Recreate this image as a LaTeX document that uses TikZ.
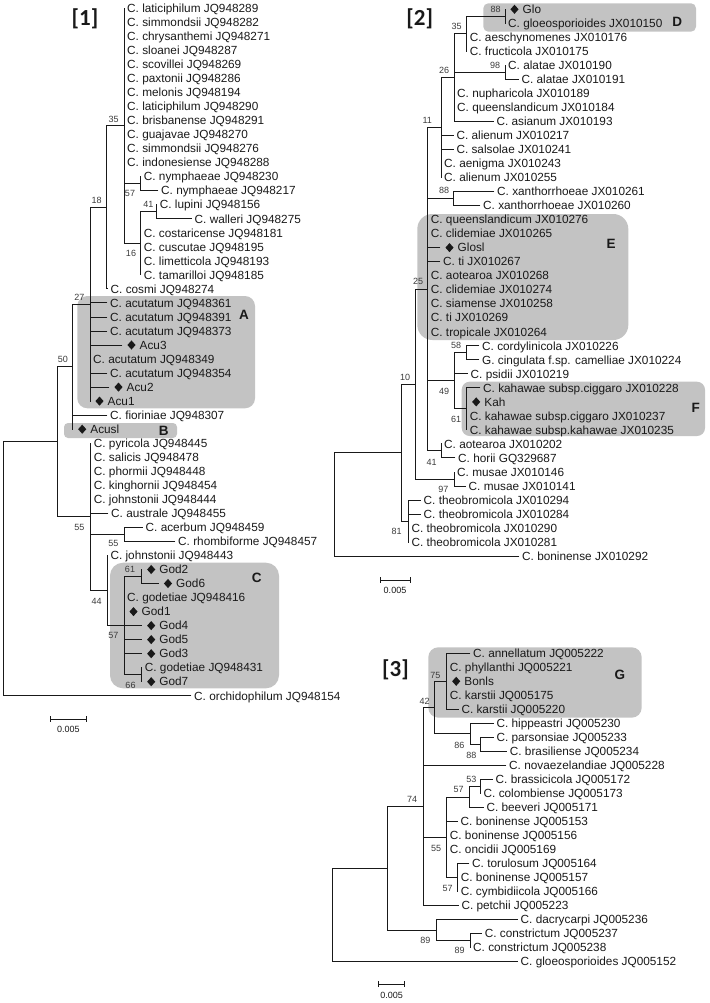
\documentclass[tikz,border=0pt]{standalone}
\usepackage{fontspec}
\setmainfont{Liberation Sans}
\newfontfamily\titlefont{Carlito}
\usetikzlibrary{shapes.geometric}
\definecolor{boxgray}{RGB}{195,195,195}
\definecolor{ink}{RGB}{25,25,25}
\tikzset{
 br/.style={draw=ink, line width=0.9pt, line cap=rect},
 lf/.style={anchor=west, inner xsep=3pt, inner ysep=0pt, text height=9pt, text depth=0.5pt, font=\fontsize{11.8}{12}\selectfont, text=ink},
 bs/.style={inner sep=0pt, font=\fontsize{9}{9}\selectfont, text=ink!85},
 glet/.style={inner sep=0pt, font=\bfseries\fontsize{13.5}{13.5}\selectfont, text=ink},
 ttl/.style={inner sep=0pt, font=\titlefont\bfseries\fontsize{23}{23}\selectfont, text=ink},
 dmd/.style={diamond, fill=ink, inner sep=0pt, minimum width=8.3pt, minimum height=9.3pt},
 scl/.style={inner sep=0pt, font=\fontsize{9}{9}\selectfont, text=ink},
 grp/.style={fill=boxgray, rounded corners=#1},
}
\newcommand{\hb}[2]{\draw[br] (#1 |- #2) -- (#2);}
\newcommand{\vb}[3]{\draw[br] (#1 |- #2) -- (#1 |- #3);}
\newcommand{\lfn}[4]{\node[lf] (#1) at (#2,#3) {#4};}
\newcommand{\dlf}[4]{\node[lf] (#1) at (#2,#3) {\hspace*{14.5pt}#4}; \node[dmd] (#1d) at ([xshift=9.5pt]#1.west) {};}
\begin{document}
\begin{tikzpicture}[x=1pt,y=-1pt]
\useasboundingbox (0,0) rectangle (709,1003);
% ---------- group boxes ----------
\fill[grp=10pt] (77.3,296) rectangle (255,408.3);
\fill[grp=4pt] (64,423) rectangle (177,438);
\fill[grp=13pt] (110,562.7) rectangle (279,688.3);
\fill[grp=5pt] (483.3,3.3) rectangle (696,31.7);
\fill[grp=15pt] (417.3,214) rectangle (628.3,340);
\fill[grp=8pt] (461.7,381.7) rectangle (705,436);
\fill[grp=10pt] (428.3,647.3) rectangle (641.7,717.7);
\node[glet] (gA) at (244,314.8) {A};
\node[glet] (gB) at (163.8,430.5) {B};
\node[glet] (gC) at (256.7,578) {C};
\node[glet] (gD) at (677.2,22.3) {D};
\node[glet] (gE) at (611,243.8) {E};
\node[glet] (gF) at (695.8,408.3) {F};
\node[glet] (gG) at (619.8,675) {G};
% ---------- titles ----------
\node[ttl] (T1) at (85,19.2) {[1]};
\node[ttl] (T2) at (419.7,18.8) {[2]};
\node[ttl] (T3) at (395.5,669.7) {[3]};
% =============== TREE 1 ===============
\coordinate (r1) at (3.3,568.8);
\coordinate (t1a) at (57.3,441.8);
\coordinate (t1n50) at (72.7,366.7);
\coordinate (t1n27) at (90,304.2);
\coordinate (t1n18) at (106.7,207.4);
\coordinate (t1n35) at (124,125.8);
\coordinate (t1n57a) at (140.7,183.7);
\coordinate (t1n16) at (140.7,243.3);
\coordinate (t1n41) at (156.7,211.8);
\coordinate (t1n55) at (90.7,516.9);
\coordinate (t1n55b) at (124,534.4);
\coordinate (t1n44) at (107.3,590.6);
\coordinate (t1n57) at (124,625.6);
\coordinate (t1n61) at (141.7,576.5);
\coordinate (t1n66) at (141.7,674.7);
\lfn{a0}{124}{8.3}{C. laticiphilum JQ948289}
\lfn{a1}{124}{22.3}{C. simmondsii JQ948282}
\lfn{a2}{124}{36.4}{C. chrysanthemi JQ948271}
\lfn{a3}{124}{50.4}{C. sloanei JQ948287}
\lfn{a4}{124}{64.4}{C. scovillei JQ948269}
\lfn{a5}{124}{78.5}{C. paxtonii JQ948286}
\lfn{a6}{124}{92.5}{C. melonis JQ948194}
\lfn{a7}{124}{106.5}{C. laticiphilum JQ948290}
\lfn{a8}{124}{120.5}{C. brisbanense JQ948291}
\lfn{a9}{124}{134.6}{C. guajavae JQ948270}
\lfn{a10}{124}{148.6}{C. simmondsii JQ948276}
\lfn{a11}{124}{162.6}{C. indonesiense JQ948288}
\lfn{a12}{140.7}{176.7}{C. nymphaeae JQ948230}
\lfn{a13}{158}{190.7}{C. nymphaeae JQ948217}
\lfn{a14}{156.7}{204.7}{C. lupini JQ948156}
\lfn{a15}{191.5}{218.8}{C. walleri JQ948275}
\lfn{a16}{140.7}{232.8}{C. costaricense JQ948181}
\lfn{a17}{140.7}{246.8}{C. cuscutae JQ948195}
\lfn{a18}{140.7}{260.8}{C. limetticola JQ948193}
\lfn{a19}{140.7}{274.9}{C. tamarilloi JQ948185}
\lfn{a20}{107.5}{288.9}{C. cosmi JQ948274}
\lfn{a21}{107}{302.9}{C. acutatum JQ948361}
\lfn{a22}{107}{317.0}{C. acutatum JQ948391}
\lfn{a23}{107}{331.0}{C. acutatum JQ948373}
\dlf{a24}{122}{345.0}{Acu3}
\lfn{a25}{90}{359.1}{C. acutatum JQ948349}
\lfn{a26}{107}{373.1}{C. acutatum JQ948354}
\dlf{a27}{109}{387.1}{Acu2}
\dlf{a28}{90}{401.1}{Acu1}
\lfn{a29}{107}{415.2}{C. fioriniae JQ948307}
\dlf{a30}{72.7}{429.2}{Acusl}
\lfn{a31}{90.7}{443.2}{C. pyricola JQ948445}
\lfn{a32}{90.7}{457.3}{C. salicis JQ948478}
\lfn{a33}{90.7}{471.3}{C. phormii JQ948448}
\lfn{a34}{90.7}{485.3}{C. kinghornii JQ948454}
\lfn{a35}{90.7}{499.4}{C. johnstonii JQ948444}
\lfn{a36}{108}{513.4}{C. australe JQ948455}
\lfn{a37}{142.5}{527.4}{C. acerbum JQ948459}
\lfn{a38}{175}{541.4}{C. rhombiforme JQ948457}
\lfn{a39}{107.3}{555.5}{C. johnstonii JQ948443}
\dlf{a40}{141.7}{569.5}{God2}
\dlf{a41}{158.5}{583.5}{God6}
\lfn{a42}{124}{597.6}{C. godetiae JQ948416}
\dlf{a43}{124}{611.6}{God1}
\dlf{a44}{141.7}{625.6}{God4}
\dlf{a45}{141.7}{639.6}{God5}
\dlf{a46}{141.7}{653.7}{God3}
\lfn{a47}{141.7}{667.7}{C. godetiae JQ948431}
\dlf{a48}{141.7}{681.7}{God7}
\lfn{a49}{191}{695.8}{C. orchidophilum JQ948154}
\vb{r1}{t1a}{a49} \hb{r1}{t1a} \hb{r1}{a49}
\vb{t1a}{t1n50}{t1n55} \hb{t1a}{t1n50} \hb{t1a}{t1n55}
\vb{t1n50}{t1n27}{a30} \hb{t1n50}{t1n27} \hb{t1n50}{a29}
\vb{t1n27}{t1n18}{a28} \hb{t1n27}{t1n18} \hb{t1n27}{a21} \hb{t1n27}{a22} \hb{t1n27}{a23} \hb{t1n27}{a24} \hb{t1n27}{a26} \hb{t1n27}{a27}
\vb{t1n18}{t1n35}{a20} \hb{t1n18}{t1n35} \hb{t1n18}{a20}
\vb{t1n35}{a0}{t1n16} \hb{t1n35}{t1n57a} \hb{t1n35}{t1n16}
\vb{t1n57a}{a12}{a13} \hb{t1n57a}{a13}
\vb{t1n16}{t1n41}{a19} \hb{t1n16}{t1n41}
\vb{t1n41}{a14}{a15} \hb{t1n41}{a15}
\vb{t1n55}{a31}{t1n44} \hb{t1n55}{a36} \hb{t1n55}{t1n55b} \hb{t1n55}{t1n44}
\vb{t1n55b}{a37}{a38} \hb{t1n55b}{a37} \hb{t1n55b}{a38}
\vb{t1n44}{a39}{t1n57} \hb{t1n44}{t1n57}
\vb{t1n57}{t1n61}{t1n66} \hb{t1n57}{t1n61} \hb{t1n57}{a44} \hb{t1n57}{a45} \hb{t1n57}{a46} \hb{t1n57}{t1n66}
\vb{t1n61}{a40}{a41} \hb{t1n61}{a41}
\vb{t1n66}{a47}{a48}
\node[bs] (k1a) at (113.7,119.3) {35};
\node[bs] (k1b) at (130,193.3) {57};
\node[bs] (k1c) at (148.3,204.5) {41};
\node[bs] (k1d) at (131,253.7) {16};
\node[bs] (k1e) at (96.7,200) {18};
\node[bs] (k1f) at (79.5,297) {27};
\node[bs] (k1g) at (62.8,359.3) {50};
\node[bs] (k1h) at (79.5,527.8) {55};
\node[bs] (k1i) at (113.3,543.8) {55};
\node[bs] (k1j) at (96.7,601.2) {44};
\node[bs] (k1k) at (130,569.2) {61};
\node[bs] (k1l) at (113.3,635.3) {57};
\node[bs] (k1m) at (130.5,685) {66};
\coordinate (s1a) at (50,719); \coordinate (s1b) at (86.7,719);
\draw[br, line cap=butt] (s1a) -- (s1b);
\draw[br, line cap=butt] ([yshift=3pt]s1a) -- ([yshift=-3pt]s1a);
\draw[br, line cap=butt] ([yshift=3pt]s1b) -- ([yshift=-3pt]s1b);
\node[scl] (s1l) at (68.3,729.5) {0.005};
% =============== TREE 2 ===============
\coordinate (r2) at (334,504.4);
\coordinate (t2b) at (401.7,452.7);
\coordinate (t2n10) at (415,384.2);
\coordinate (t2n25) at (427.7,289.3);
\coordinate (t2n11) at (441,127.6);
\coordinate (t2n26) at (454,77.7);
\coordinate (t2n35) at (466.7,33.9);
\coordinate (t2n88a) at (505,16.3);
\coordinate (t2n98) at (505,72.4);
\coordinate (t2n88b) at (453.3,198.6);
\coordinate (t2n49) at (454,380.9);
\coordinate (t2n58) at (466.7,352.8);
\coordinate (t2n61) at (466.7,408.9);
\coordinate (t2n41) at (441,450.9);
\coordinate (t2n97) at (454,479);
\coordinate (t2n81) at (408.3,521.1);
\dlf{b0}{505}{9.3}{Glo}
\lfn{b1}{505}{23.3}{C. gloeosporioides JX010150}
\lfn{b2}{466.7}{37.3}{C. aeschynomenes JX010176}
\lfn{b3}{466.7}{51.4}{C. fructicola JX010175}
\lfn{b4}{505}{65.4}{C. alatae JX010190}
\lfn{b5}{518.3}{79.4}{C. alatae JX010191}
\lfn{b6}{454}{93.4}{C. nupharicola JX010189}
\lfn{b7}{454}{107.4}{C. queenslandicum JX010184}
\lfn{b8}{493.3}{121.5}{C. asianum JX010193}
\lfn{b9}{453.3}{135.5}{C. alienum JX010217}
\lfn{b10}{453.3}{149.5}{C. salsolae JX010241}
\lfn{b11}{441}{163.5}{C. aenigma JX010243}
\lfn{b12}{441}{177.5}{C. alienum JX010255}
\lfn{b13}{494}{191.6}{C. xanthorrhoeae JX010261}
\lfn{b14}{480}{205.6}{C. xanthorrhoeae JX010260}
\lfn{b15}{427.7}{219.6}{C. queenslandicum JX010276}
\lfn{b16}{427.7}{233.6}{C. clidemiae JX010265}
\dlf{b17}{440}{247.6}{Glosl}
\lfn{b18}{440}{261.7}{C. ti JX010267}
\lfn{b19}{427.7}{275.7}{C. aotearoa JX010268}
\lfn{b20}{427.7}{289.7}{C. clidemiae JX010274}
\lfn{b21}{427.7}{303.7}{C. siamense JX010258}
\lfn{b22}{427.7}{317.7}{C. ti JX010269}
\lfn{b23}{427.7}{331.8}{C. tropicale JX010264}
\lfn{b24}{479}{345.8}{C. cordylinicola JX010226}
\lfn{b25}{479}{359.8}{G. cingulata f.sp. camelliae JX010224}
\lfn{b26}{467.5}{373.8}{C. psidii JX010219}
\lfn{b27}{480}{387.8}{C. kahawae subsp.ciggaro JX010228}
\dlf{b28}{466.7}{401.9}{Kah}
\lfn{b29}{466.7}{415.9}{C. kahawae subsp.ciggaro JX010237}
\lfn{b30}{466.7}{429.9}{C. kahawae subsp.kahawae JX010235}
\lfn{b31}{441}{443.9}{C. aotearoa JX010202}
\lfn{b32}{455}{457.9}{C. horii GQ329687}
\lfn{b33}{454}{472.0}{C. musae JX010146}
\lfn{b34}{465.5}{486.0}{C. musae JX010141}
\lfn{b35}{420.5}{500.0}{C. theobromicola JX010294}
\lfn{b36}{420.5}{514.0}{C. theobromicola JX010284}
\lfn{b37}{408.3}{528.0}{C. theobromicola JX010290}
\lfn{b38}{408.3}{542.1}{C. theobromicola JX010281}
\lfn{b39}{519}{556.1}{C. boninense JX010292}
\vb{r2}{t2b}{b39} \hb{r2}{t2b} \hb{r2}{b39}
\vb{t2b}{t2n10}{t2n81} \hb{t2b}{t2n10} \hb{t2b}{t2n81}
\vb{t2n10}{t2n25}{t2n97} \hb{t2n10}{t2n25} \hb{t2n10}{t2n97}
\vb{t2n25}{t2n11}{t2n41} \hb{t2n25}{t2n11} \hb{t2n25}{t2n88b} \hb{t2n25}{b17} \hb{t2n25}{b18} \hb{t2n25}{t2n49} \hb{t2n25}{t2n41}
\vb{t2n11}{t2n26}{b12} \hb{t2n11}{t2n26} \hb{t2n11}{b9} \hb{t2n11}{b10}
\vb{t2n26}{t2n35}{b8} \hb{t2n26}{t2n35} \hb{t2n26}{t2n98} \hb{t2n26}{b8}
\vb{t2n35}{t2n88a}{b3} \hb{t2n35}{t2n88a}
\vb{t2n88a}{b0}{b1}
\vb{t2n98}{b4}{b5} \hb{t2n98}{b5}
\vb{t2n88b}{b13}{b14} \hb{t2n88b}{b13} \hb{t2n88b}{b14}
\vb{t2n49}{t2n58}{t2n61} \hb{t2n49}{t2n58} \hb{t2n49}{b26} \hb{t2n49}{t2n61}
\vb{t2n58}{b24}{b25} \hb{t2n58}{b24} \hb{t2n58}{b25}
\vb{t2n61}{b27}{b30} \hb{t2n61}{b27}
\vb{t2n41}{b31}{b32} \hb{t2n41}{b32}
\vb{t2n97}{b33}{b34} \hb{t2n97}{b34}
\vb{t2n81}{b35}{b38} \hb{t2n81}{b35} \hb{t2n81}{b36}
\node[bs] (k2a) at (495.7,9.3) {88};
\node[bs] (k2b) at (456.7,26.7) {35};
\node[bs] (k2c) at (495,65) {98};
\node[bs] (k2d) at (444,70) {26};
\node[bs] (k2e) at (427.3,120) {11};
\node[bs] (k2f) at (444,190.7) {88};
\node[bs] (k2g) at (418,281.7) {25};
\node[bs] (k2h) at (456.2,345.8) {58};
\node[bs] (k2i) at (405,377) {10};
\node[bs] (k2j) at (444,391.7) {49};
\node[bs] (k2k) at (456.2,419.7) {61};
\node[bs] (k2l) at (431.7,462.3) {41};
\node[bs] (k2m) at (443.3,489.3) {97};
\node[bs] (k2n) at (396.7,531.3) {81};
\coordinate (s2a) at (380.7,580); \coordinate (s2b) at (410,580);
\draw[br, line cap=butt] (s2a) -- (s2b);
\draw[br, line cap=butt] ([yshift=3pt]s2a) -- ([yshift=-3pt]s2a);
\draw[br, line cap=butt] ([yshift=3pt]s2b) -- ([yshift=-3pt]s2b);
\node[scl] (s2l) at (395,590) {0.005};
% =============== TREE 3 ===============
\coordinate (r3) at (332.3,915.1);
\coordinate (t3c) at (387.7,868.5);
\coordinate (t3n74) at (423.3,806.7);
\coordinate (t3n42) at (434,707.7);
\coordinate (t3n75) at (446.7,681.4);
\coordinate (t3n86) at (470,733.9);
\coordinate (t3n88) at (480.7,744.4);
\coordinate (t3n55) at (446.7,837.3);
\coordinate (t3n57a) at (469.3,797);
\coordinate (t3n53) at (480.5,786.5);
\coordinate (t3n57b) at (457.7,877.6);
\coordinate (t3n89) at (436,930.2);
\coordinate (t3n89b) at (470,940.7);
\lfn{c0}{470}{653.3}{C. annellatum JQ005222}
\lfn{c1}{446.7}{667.3}{C. phyllanthi JQ005221}
\dlf{c2}{446.7}{681.3}{Bonls}
\lfn{c3}{446.7}{695.4}{C. karstii JQ005175}
\lfn{c4}{458.3}{709.4}{C. karstii JQ005220}
\lfn{c5}{493.3}{723.4}{C. hippeastri JQ005230}
\lfn{c6}{493.3}{737.4}{C. parsonsiae JQ005233}
\lfn{c7}{506.7}{751.4}{C. brasiliense JQ005234}
\lfn{c8}{506}{765.5}{C. novaezelandiae JQ005228}
\lfn{c9}{492.5}{779.5}{C. brassicicola JQ005172}
\lfn{c10}{480.5}{793.5}{C. colombiense JQ005173}
\lfn{c11}{483.3}{807.5}{C. beeveri JQ005171}
\lfn{c12}{457.5}{821.5}{C. boninense JQ005153}
\lfn{c13}{446.7}{835.6}{C. boninense JQ005156}
\lfn{c14}{446.7}{849.6}{C. oncidii JQ005169}
\lfn{c15}{469}{863.6}{C. torulosum JQ005164}
\lfn{c16}{457.7}{877.6}{C. boninense JQ005157}
\lfn{c17}{457.7}{891.6}{C. cymbidiicola JQ005166}
\lfn{c18}{458.3}{905.7}{C. petchii JQ005223}
\lfn{c19}{517.5}{919.7}{C. dacrycarpi JQ005236}
\lfn{c20}{481.7}{933.7}{C. constrictum JQ005237}
\lfn{c21}{470}{947.7}{C. constrictum JQ005238}
\lfn{c22}{517.5}{961.7}{C. gloeosporioides JQ005152}
\vb{r3}{t3c}{c22} \hb{r3}{t3c} \hb{r3}{c22}
\vb{t3c}{t3n74}{t3n89} \hb{t3c}{t3n74} \hb{t3c}{t3n89}
\vb{t3n74}{t3n42}{c18} \hb{t3n74}{t3n42} \hb{t3n74}{c8} \hb{t3n74}{t3n55} \hb{t3n74}{c18}
\vb{t3n42}{t3n75}{t3n86} \hb{t3n42}{t3n75} \hb{t3n42}{t3n86}
\vb{t3n75}{c0}{c4} \hb{t3n75}{c0} \hb{t3n75}{c4}
\vb{t3n86}{c5}{t3n88} \hb{t3n86}{c5} \hb{t3n86}{t3n88}
\vb{t3n88}{c6}{c7} \hb{t3n88}{c6} \hb{t3n88}{c7}
\vb{t3n55}{t3n57a}{t3n57b} \hb{t3n55}{t3n57a} \hb{t3n55}{c12} \hb{t3n55}{t3n57b}
\vb{t3n57a}{t3n53}{c11} \hb{t3n57a}{t3n53} \hb{t3n57a}{c11}
\vb{t3n53}{c9}{c10} \hb{t3n53}{c9}
\vb{t3n57b}{c15}{c17} \hb{t3n57b}{c15}
\vb{t3n89}{c19}{t3n89b} \hb{t3n89}{c19} \hb{t3n89}{t3n89b}
\vb{t3n89b}{c20}{c21} \hb{t3n89b}{c20}
\node[bs] (k3a) at (435.3,675) {75};
\node[bs] (k3b) at (424.7,701) {42};
\node[bs] (k3c) at (459.3,745) {86};
\node[bs] (k3d) at (471.3,755) {88};
\node[bs] (k3e) at (471.3,779.3) {53};
\node[bs] (k3f) at (458.7,789.3) {57};
\node[bs] (k3g) at (412,799) {74};
\node[bs] (k3h) at (436.2,848.3) {55};
\node[bs] (k3i) at (447.5,888.7) {57};
\node[bs] (k3j) at (425.3,940) {89};
\node[bs] (k3k) at (459.7,950.7) {89};
\coordinate (s3a) at (378.3,984); \coordinate (s3b) at (404.3,984);
\draw[br, line cap=butt] (s3a) -- (s3b);
\draw[br, line cap=butt] ([yshift=3pt]s3a) -- ([yshift=-3pt]s3a);
\draw[br, line cap=butt] ([yshift=3pt]s3b) -- ([yshift=-3pt]s3b);
\node[scl] (s3l) at (391.7,995) {0.005};
\end{tikzpicture}
\end{document}
